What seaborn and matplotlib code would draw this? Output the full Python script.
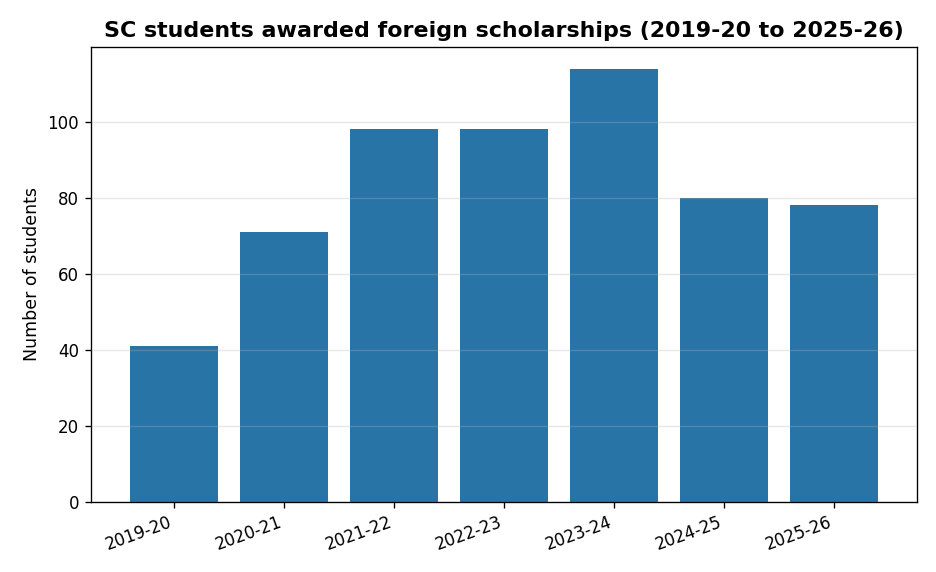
import matplotlib
matplotlib.use("Agg")
import matplotlib.pyplot as plt
import seaborn as sns
import pandas as pd

# school years and number of SC students awarded scholarships
years = ["2019-20", "2020-21", "2021-22", "2022-23", "2023-24", "2024-25", "2025-26"]
students = [41, 71, 98, 98, 114, 80, 78]

df = pd.DataFrame({"year": years, "students": students})

fig, ax = plt.subplots(figsize=(7.8, 4.7667), dpi=120)
sns.barplot(data=df, x="year", y="students", ax=ax, color="#2874a6",
            saturation=1, width=0.8, linewidth=0)
# matplotlib-style 5% side margins
ax.set_xlim(-0.76, len(years) - 0.24)
ax.grid(axis="y", alpha=0.3)
ax.set_axisbelow(False)
ax.set_xlabel("")
ax.set_ylabel("Number of students", fontsize=10.4)
ax.set_title("SC students awarded foreign scholarships (2019-20 to 2025-26)",
             fontsize=13.3, fontweight="bold")
plt.setp(ax.get_xticklabels(), rotation=20, ha="right")
ax.tick_params(labelsize=10)
fig.subplots_adjust(left=0.097, right=0.98, top=0.918, bottom=0.123)
fig.savefig("out.png", dpi=120)
